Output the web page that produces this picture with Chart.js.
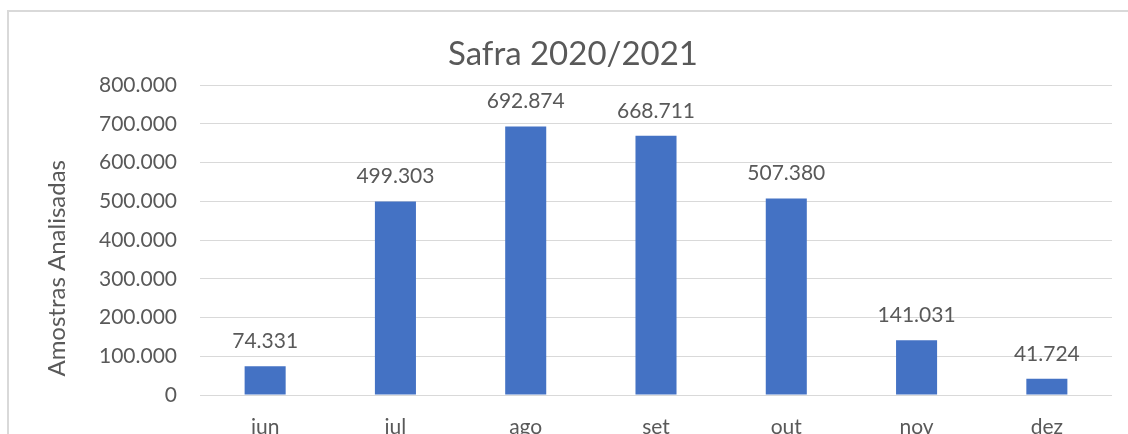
<!DOCTYPE html>
<html>
<head>
<meta charset="utf-8">
<script src="https://cdn.jsdelivr.net/npm/chart.js@4/dist/chart.umd.min.js"></script>
<style>
    html, body { margin: 0; padding: 0; background: #fff; overflow: hidden; }
    #frame {
        position: absolute; left: 7px; top: 10px;
        width: 1200px; height: 500px;
        border-left: 2px solid #d9d9d9; border-top: 2px solid #d9d9d9;
    }
    #wrap { position: absolute; left: 0; top: 0; width: 1128px; height: 470px; }
</style>
</head>
<body>
<div id="frame"></div>
<div id="wrap"><canvas id="safraChart"></canvas></div>
<script>
// Amostras analisadas por mes - safra 2020/2021
const meses = ['jun', 'jul', 'ago', 'set', 'out', 'nov', 'dez'];
const amostras = [74331, 499303, 692874, 668711, 507380, 141031, 41724];
const yMax = 800000;
const yStep = 100000;

const cinza = '#595959';
const fonte = 'Lato, "Open Sans", sans-serif';

function fmt(v) {
    // formato brasileiro: 692.874
    return v.toLocaleString('pt-BR');
}

// rotulos de dados acima das barras
const rotulos = {
    id: 'rotulos',
    afterDatasetsDraw(chart) {
        const ctx = chart.ctx;
        const meta = chart.getDatasetMeta(0);
        ctx.save();
        ctx.font = '21px ' + fonte;
        ctx.fillStyle = cinza;
        ctx.textAlign = 'center';
        ctx.textBaseline = 'middle';
        meta.data.forEach((bar, i) => {
            ctx.fillText(fmt(amostras[i]), bar.x, bar.y - 25);
        });
        ctx.restore();
    }
};

const ctx = document.getElementById('safraChart').getContext('2d');

new Chart(ctx, {
    type: 'bar',
    data: {
        labels: meses,
        datasets: [{
            label: 'Amostras',
            data: amostras,
            backgroundColor: '#4472C4',
            borderWidth: 0,
            barPercentage: 0.315,
            categoryPercentage: 1
        }]
    },
    options: {
        responsive: true,
        maintainAspectRatio: false,
        animation: false,
        layout: { padding: { left: 34, right: 16, top: 0, bottom: 0 } },
        plugins: {
            legend: { display: false },
            tooltip: { enabled: false },
            title: {
                display: true,
                text: 'Safra 2020/2021',
                color: cinza,
                font: { family: fonte, size: 33, weight: 'normal' },
                padding: { top: 35, bottom: 10.4 }
            }
        },
        scales: {
            x: {
                grid: { display: false, drawTicks: false },
                border: { display: false },
                ticks: {
                    color: cinza,
                    font: { family: fonte, size: 21 },
                    padding: 20
                },
                afterFit(scale) { scale.height = 75; }
            },
            y: {
                min: 0,
                max: yMax,
                grid: { color: '#d9d9d9', lineWidth: 1, drawTicks: false },
                border: { display: false },
                ticks: {
                    stepSize: yStep,
                    color: cinza,
                    font: { family: fonte, size: 21 },
                    padding: 23,
                    callback: v => fmt(v)
                },
                title: {
                    display: true,
                    text: '   Amostras Analisadas',
                    align: 'start',
                    color: cinza,
                    font: { family: fonte, size: 24, weight: 'normal' },
                    padding: { top: 9, bottom: 0 }
                },
                afterFit(scale) { scale.width = 166; }
            }
        }
    },
    plugins: [rotulos]
});
</script>
</body>
</html>
